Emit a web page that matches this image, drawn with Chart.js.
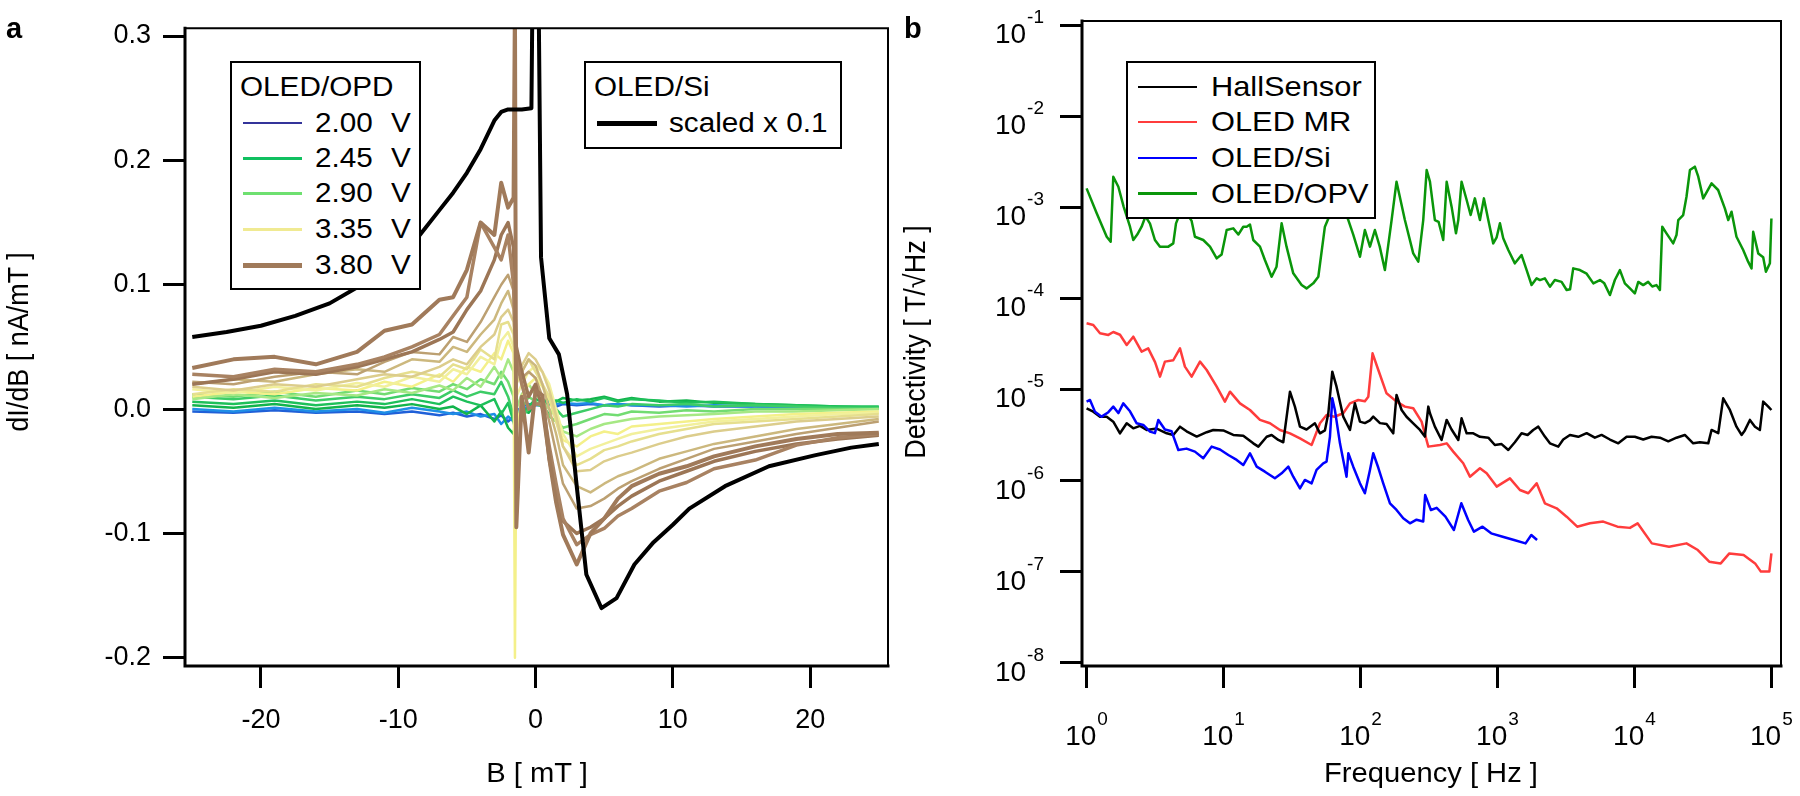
<!DOCTYPE html>
<html>
<head>
<meta charset="utf-8">
<title>OLED magnetometry</title>
<script src="https://cdn.jsdelivr.net/npm/chart.js@4.4.1/dist/chart.umd.min.js"></script>
<style>
  html, body { margin: 0; padding: 0; background: #fff; }
  #wrap { position: relative; width: 1800px; height: 796px; overflow: hidden; font-family: "Liberation Sans", Arial, sans-serif; color: #000; }
  #wrap canvas { position: absolute; top: 0; }
  .t { position: absolute; line-height: 1; white-space: pre; transform-origin: 0 0; transform: scaleX(1.1); }
  .box { position: absolute; background: #fff; border: 2px solid #000; box-sizing: border-box; }
  .swatch { position: absolute; }
  .panel { position: absolute; font-weight: bold; font-size: 29px; line-height: 1; }
  .xtitle { position: absolute; font-size: 27px; line-height: 1; white-space: pre; transform: translateX(-50%) scaleX(1.08); }
  .ytitle { position: absolute; font-size: 27px; line-height: 1; white-space: pre; transform: translate(-50%, -50%) rotate(-90deg) scaleY(1.08); }
</style>
</head>
<body>
<div id="wrap">
  <canvas id="chartA" width="900" height="796" style="left:0"></canvas>
  <canvas id="chartB" width="900" height="796" style="left:900px"></canvas>
  <div class="panel" style="left:6px; top:14px">a</div>
  <div class="panel" style="left:904px; top:14px">b</div>
  <div class="xtitle" style="left:537px; top:760px">B [ mT ]</div>
  <div class="xtitle" style="left:1431px; top:760px">Frequency [ Hz ]</div>
  <div class="ytitle" style="left:19px; top:342px">dI/dB [ nA/mT ]</div>
  <div class="ytitle" style="left:916px; top:342px">Detectivity [ T/√Hz ]</div>
</div>
<script>
// ---------- panel a : dI/dB vs B ----------
const fieldTicks = [-20, -10, 0, 10, 20];
const slopeTicks = [-0.2, -0.1, 0, 0.1, 0.2, 0.3];

// field grid (mT) shared by the OLED/OPD sweeps
const opdField = [-25, -22, -19, -16, -13, -11, -9, -7, -6, -5, -4, -3, -2.5, -2, -1.6, -1.5, -1.4, -1, -0.5, 0,
                  0.5, 1, 1.5, 2, 3, 4, 5, 6, 7, 9, 11, 13, 16, 19, 22, 25];

const opdVoltages = ['2.00', '2.45', '2.90', '3.35', '3.80'];

// OLED/OPD sweeps, nA/mT
const opd200a = [-0.002,-0.003,-0.001,-0.003,-0.002,-0.004, -0.002,-0.005,-0.003,-0.006,-0.004,-0.008,
                 -0.005,-0.010,-0.006,-0.004,-0.002,0.002, 0.004,0.003,0.003,0.004,0.002,0.004,
                 0.003,0.004,0.003,0.004,0.003,0.002, 0.003,0.002,0.002,0.001,0.001,0.001];
const opd200b = [0.000,-0.002,0.001,-0.002,0.000,-0.003, 0.001,-0.002,-0.004,-0.002,-0.006,-0.004,
                 -0.012,-0.006,-0.010,-0.008,-0.004,0.000, 0.002,0.004,0.005,0.006,0.004,0.005,
                 0.004,0.005,0.003,0.004,0.003,0.003, 0.002,0.003,0.002,0.002,0.001,0.001];
const opd245a = [0.003,0.001,0.004,0.000,0.003,0.001, 0.004,0.000,0.002,-0.004,0.003,-0.010,
                 -0.002,-0.015,-0.020,-0.012,-0.008,0.000, -0.003,0.004,0.006,0.008,0.006,0.009,
                 0.007,0.008,0.010,0.007,0.009,0.006, 0.007,0.005,0.004,0.003,0.002,0.001];
const opd245b = [0.006,0.004,0.007,0.003,0.006,0.004, 0.008,0.004,0.010,0.006,0.003,0.008,
                 -0.004,0.005,-0.010,-0.016,-0.010,-0.004, 0.002,0.008,0.006,0.004,0.007,0.005,
                 0.008,0.006,0.009,0.006,0.008,0.007, 0.005,0.006,0.004,0.003,0.002,0.002];
const opd245c = [0.010,0.008,0.011,0.007,0.010,0.008, 0.012,0.009,0.015,0.010,0.014,0.012,
                 0.022,0.010,-0.005,-0.020,-0.012,-0.006, 0.000,0.004,0.002,-0.004,0.000,-0.006,
                 -0.003,0.000,0.003,0.002,0.004,0.003, 0.004,0.002,0.003,0.002,0.001,0.001];
const opd290a = [0.012,0.010,0.014,0.010,0.015,0.012, 0.017,0.014,0.020,0.016,0.024,0.020,
                 0.030,0.022,0.010,-0.015,-0.010,0.000, 0.010,0.006,0.002,-0.006,-0.010,-0.015,
                 -0.012,-0.008,-0.004,-0.005,-0.002,-0.003, -0.001,-0.002,0.000,0.000,0.000,0.000];
const opd290b = [0.008,0.012,0.009,0.013,0.011,0.016, 0.013,0.019,0.015,0.025,0.018,0.034,
                 0.025,0.040,0.030,0.005,0.000,0.012, 0.020,0.012,0.006,0.000,-0.006,-0.018,
                 -0.022,-0.016,-0.012,-0.010,-0.008,-0.006, -0.005,-0.004,-0.002,-0.002,-0.001,0.000];
const opd335a = [0.010,0.014,0.012,0.017,0.015,0.022, 0.018,0.028,0.022,0.034,0.030,0.045,
                 0.040,0.055,0.045,-0.200,-0.020,0.010, 0.020,0.025,0.018,0.008,-0.010,-0.025,
                 -0.030,-0.022,-0.018,-0.020,-0.014,-0.012, -0.010,-0.008,-0.006,-0.004,-0.003,-0.002];
const opd335b = [0.016,0.013,0.018,0.015,0.021,0.018, 0.026,0.022,0.032,0.028,0.042,0.036,
                 0.055,0.062,0.050,0.020,0.010,0.020, 0.030,0.035,0.030,0.020,0.000,-0.020,
                 -0.038,-0.032,-0.028,-0.024,-0.020,-0.016, -0.013,-0.010,-0.008,-0.006,-0.004,-0.003];
const opd335c = [0.012,0.016,0.014,0.020,0.018,0.025, 0.030,0.026,0.036,0.032,0.048,0.040,
                 0.068,0.070,0.060,0.030,0.020,0.030, 0.040,0.030,0.020,0.010,-0.010,-0.030,
                 -0.045,-0.040,-0.033,-0.030,-0.026,-0.020, -0.016,-0.012,-0.010,-0.008,-0.006,-0.004];
const opd350a = [0.018,0.015,0.020,0.018,0.024,0.028, 0.026,0.034,0.040,0.036,0.050,0.060,
                 0.074,0.080,0.070,0.040,0.030,0.035, 0.045,0.040,0.030,0.015,-0.005,-0.030,
                 -0.050,-0.049,-0.042,-0.038,-0.035,-0.028, -0.022,-0.018,-0.014,-0.010,-0.008,-0.006];
const opd360a = [0.020,0.024,0.022,0.028,0.032,0.030, 0.040,0.038,0.050,0.046,0.060,0.072,
                 0.085,0.095,0.080,0.050,0.040,0.030, 0.040,0.035,0.020,0.000,-0.020,-0.045,
                 -0.062,-0.067,-0.060,-0.054,-0.050,-0.040, -0.034,-0.028,-0.022,-0.016,-0.012,-0.008];
const opd370a = [0.022,0.020,0.026,0.030,0.028,0.038, 0.046,0.044,0.058,0.054,0.070,0.090,
                 0.100,0.108,0.095,0.060,0.045,0.025, 0.030,0.025,0.010,-0.010,-0.035,-0.060,
                 -0.080,-0.078,-0.072,-0.064,-0.058,-0.048, -0.040,-0.032,-0.026,-0.020,-0.015,-0.010];
const opd380a = [0.033,0.040,0.042,0.036,0.046,0.063, 0.068,0.088,0.090,0.112,0.150,0.140,
                 0.182,0.162,0.170,0.330,-0.095,0.010, -0.035,0.015,0.011,-0.040,-0.075,-0.101,
                 -0.125,-0.100,-0.088,-0.072,-0.062,-0.052, -0.046,-0.038,-0.030,-0.024,-0.020,-0.019];
const opd380b = [0.028,0.026,0.032,0.030,0.036,0.042, 0.050,0.060,0.075,0.090,0.150,0.130,
                 0.120,0.140,0.100,0.060,0.040,0.020, 0.000,0.004,0.004,-0.030,-0.060,-0.088,
                 -0.109,-0.101,-0.096,-0.086,-0.080,-0.066, -0.059,-0.048,-0.041,-0.029,-0.023,-0.020];
const opd380c = [0.020,0.024,0.030,0.028,0.034,0.040, 0.046,0.056,0.062,0.080,0.095,0.120,
                 0.140,0.150,0.130,0.080,0.050,0.030, 0.010,0.020,0.000,-0.040,-0.070,-0.090,
                 -0.100,-0.095,-0.088,-0.078,-0.070,-0.058, -0.050,-0.042,-0.034,-0.028,-0.024,-0.021];

// OLED/Si reference, already scaled x 0.1
const siField  = [-25, -22.5, -20, -17.5, -15, -12.5, -10, -8.5, -7, -6, -5, -4, -3, -2.5, -2, -1, -0.3, 0, 0.4, 1,
                  1.7, 2.3, 3, 3.7, 4.8, 5.9, 7.2, 8.6, 10, 11.2, 13.8, 17, 20.4, 23, 25];
const siScaled = [0.058, 0.062, 0.067, 0.075, 0.085, 0.101, 0.120, 0.139, 0.160, 0.174, 0.190, 0.209, 0.232, 0.239, 0.241,
                  0.241, 0.242, 0.6, 0.122, 0.057, 0.044, 0.012, -0.062, -0.133, -0.160, -0.152, -0.125, -0.107, -0.093,
                  -0.080, -0.062, -0.046, -0.037, -0.031, -0.028];

// ---------- panel b : detectivity spectra (log10 of Hz and of T/sqrt(Hz)) ----------
const freqTickExp = [0, 1, 2, 3, 4, 5];
const detTickExp = [-8, -7, -6, -5, -4, -3, -2, -1];
const sensorNames = ['HallSensor', 'OLED MR', 'OLED/Si', 'OLED/OPV'];

const hallFreqExp = [0.0,0.049,0.098,0.147,0.195,0.244,0.293,0.341,0.39,0.439,
  0.512,0.585,0.633,0.682,0.73,0.804,0.877,0.925,0.998,1.071,
  1.144,1.217,1.254,1.315,1.351,1.4,1.436,1.485,1.521,1.558,
  1.606,1.667,1.704,1.74,1.765,1.794,1.825,1.874,1.923,1.959,
  1.996,2.032,2.069,2.093,2.142,2.19,2.239,2.263,2.3,2.336,
  2.385,2.434,2.47,2.495,2.507,2.543,2.592,2.629,2.665,2.714,
  2.738,2.775,2.82,2.872,2.933,2.981,3.03,3.079,3.127,3.176,
  3.22,3.261,3.298,3.346,3.383,3.444,3.48,3.529,3.59,3.651,
  3.711,3.76,3.821,3.882,3.943,4.003,4.064,4.125,4.186,4.247,
  4.307,4.368,4.429,4.478,4.539,4.563,4.612,4.648,4.697,4.745,
  4.782,4.806,4.843,4.88,4.916,4.94,4.977,5.0];
const hallDetExp = [-5.207,-5.244,-5.299,-5.30,-5.354,-5.482,-5.372,-5.427,-5.40,-5.445,
  -5.43,-5.482,-5.5,-5.409,-5.46,-5.518,-5.47,-5.445,-5.45,-5.5,
  -5.51,-5.592,-5.628,-5.52,-5.50,-5.555,-5.58,-5.025,-5.189,-5.409,
  -5.44,-5.372,-5.482,-5.45,-5.262,-4.805,-4.97,-5.299,-5.445,-5.153,
  -5.354,-5.37,-5.34,-5.299,-5.37,-5.38,-5.482,-5.061,-5.226,-5.30,
  -5.372,-5.445,-5.518,-5.189,-5.262,-5.409,-5.555,-5.335,-5.44,-5.555,
  -5.317,-5.482,-5.48,-5.52,-5.53,-5.61,-5.60,-5.665,-5.58,-5.482,
  -5.50,-5.445,-5.409,-5.518,-5.592,-5.628,-5.55,-5.5,-5.52,-5.48,
  -5.53,-5.50,-5.55,-5.592,-5.52,-5.52,-5.55,-5.52,-5.53,-5.57,
  -5.53,-5.50,-5.592,-5.58,-5.592,-5.445,-5.48,-5.098,-5.226,-5.409,
  -5.5,-5.45,-5.335,-5.41,-5.445,-5.134,-5.189,-5.226];

const mrFreqExp = [0.0,0.049,0.098,0.159,0.195,0.244,0.293,0.341,0.402,0.45,
  0.5,0.536,0.572,0.633,0.682,0.718,0.767,0.828,0.877,0.95,
  1.01,1.047,1.12,1.193,1.266,1.339,1.412,1.485,1.558,1.643,
  1.704,1.752,1.81,1.874,1.923,1.984,2.032,2.057,2.088,2.13,
  2.19,2.263,2.324,2.385,2.446,2.495,2.58,2.629,2.677,2.75,
  2.799,2.872,2.921,2.994,3.091,3.164,3.225,3.286,3.346,3.432,
  3.505,3.582,3.675,3.772,3.876,3.967,4.023,4.127,4.253,4.38,
  4.463,4.546,4.63,4.693,4.797,4.881,4.923,4.985,5.0];
const mrDetExp = [-4.274,-4.293,-4.384,-4.402,-4.37,-4.40,-4.512,-4.421,-4.585,-4.549,
  -4.70,-4.86,-4.695,-4.68,-4.549,-4.75,-4.86,-4.695,-4.787,-4.97,
  -5.134,-5.025,-5.153,-5.226,-5.335,-5.372,-5.445,-5.482,-5.537,-5.61,
  -5.372,-5.281,-5.30,-5.262,-5.153,-5.116,-5.13,-5.08,-4.604,-4.787,
  -5.043,-5.134,-5.189,-5.207,-5.354,-5.628,-5.61,-5.592,-5.683,-5.811,
  -5.958,-5.866,-5.921,-6.067,-5.976,-6.104,-6.14,-6.031,-6.25,-6.305,
  -6.397,-6.507,-6.47,-6.451,-6.507,-6.52,-6.47,-6.69,-6.727,-6.69,
  -6.763,-6.891,-6.91,-6.80,-6.818,-6.91,-7.0,-7.0,-6.80];

const siFreqExp = [0.0,0.025,0.061,0.11,0.159,0.195,0.232,0.268,0.317,0.366,
  0.414,0.463,0.499,0.524,0.572,0.621,0.67,0.73,0.791,0.852,
  0.913,0.974,1.035,1.096,1.144,1.193,1.242,1.302,1.375,1.424,
  1.473,1.509,1.558,1.594,1.643,1.679,1.728,1.752,1.777,1.794,
  1.813,1.85,1.874,1.898,1.911,1.947,1.996,2.032,2.069,2.093,
  2.13,2.166,2.215,2.263,2.312,2.361,2.409,2.458,2.472,2.514,
  2.556,2.62,2.682,2.736,2.786,2.828,2.891,2.954,3.038,3.121,
  3.205,3.247,3.289];
const siDetExp = [-5.134,-5.116,-5.244,-5.299,-5.25,-5.189,-5.26,-5.153,-5.24,-5.372,
  -5.39,-5.463,-5.48,-5.335,-5.44,-5.46,-5.665,-5.65,-5.683,-5.756,
  -5.628,-5.66,-5.72,-5.774,-5.83,-5.701,-5.848,-5.903,-5.976,-5.921,
  -5.848,-5.958,-6.086,-5.994,-6.031,-5.884,-5.811,-5.793,-5.518,-5.098,
  -5.226,-5.592,-5.775,-5.958,-5.701,-5.848,-6.031,-6.14,-5.884,-5.701,
  -5.86,-6.031,-6.25,-6.323,-6.415,-6.47,-6.43,-6.45,-6.159,-6.324,
  -6.30,-6.397,-6.543,-6.25,-6.433,-6.562,-6.507,-6.58,-6.617,-6.653,
  -6.69,-6.598,-6.653];

const opvFreqExp = [0.0,0.074,0.147,0.176,0.195,0.232,0.27,0.317,0.341,0.37,
  0.402,0.43,0.463,0.499,0.536,0.597,0.633,0.653,0.70,0.767,
  0.791,0.852,0.901,0.95,0.986,1.023,1.071,1.108,1.144,1.169,
  1.193,1.217,1.266,1.302,1.351,1.387,1.424,1.46,1.509,1.57,
  1.606,1.655,1.692,1.74,1.80,1.86,1.911,1.947,1.996,2.032,
  2.069,2.105,2.14,2.178,2.227,2.263,2.324,2.385,2.422,2.458,
  2.483,2.507,2.543,2.57,2.604,2.629,2.665,2.697,2.714,2.738,
  2.775,2.804,2.835,2.872,2.901,2.933,2.969,2.994,3.018,3.042,
  3.079,3.127,3.176,3.213,3.249,3.286,3.31,3.346,3.383,3.419,
  3.468,3.505,3.53,3.553,3.602,3.651,3.70,3.748,3.78,3.821,
  3.857,3.894,3.93,3.967,4.003,4.028,4.064,4.10,4.13,4.161,
  4.186,4.203,4.234,4.283,4.307,4.32,4.356,4.38,4.405,4.441,
  4.466,4.502,4.563,4.611,4.66,4.685,4.709,4.745,4.794,4.83,
  4.855,4.867,4.904,4.94,4.96,4.989,5.0];
const opvDetExp = [-2.793,-3.067,-3.324,-3.379,-2.665,-2.775,-2.99,-3.214,-3.36,-3.30,
  -3.214,-3.10,-3.18,-3.36,-3.433,-3.433,-3.397,-3.177,-3.0,-3.15,
  -3.324,-3.36,-3.433,-3.561,-3.52,-3.25,-3.232,-3.30,-3.214,-3.214,
  -3.19,-3.36,-3.433,-3.58,-3.763,-3.653,-3.177,-3.433,-3.726,-3.854,
  -3.891,-3.836,-3.763,-3.214,-3.0,-2.95,-3.141,-3.30,-3.543,-3.25,
  -3.433,-3.25,-3.43,-3.69,-3.141,-2.72,-3.141,-3.507,-3.598,-3.141,
  -2.592,-2.72,-3.141,-3.16,-3.36,-2.72,-2.994,-3.287,-3.141,-2.72,
  -2.921,-3.086,-2.903,-3.141,-2.903,-3.141,-3.397,-3.33,-3.177,-3.34,
  -3.47,-3.616,-3.525,-3.69,-3.854,-3.781,-3.80,-3.781,-3.872,-3.799,
  -3.82,-3.909,-3.90,-3.671,-3.69,-3.73,-3.836,-3.80,-3.836,-3.964,
  -3.799,-3.69,-3.836,-3.891,-3.946,-3.82,-3.855,-3.82,-3.87,-3.855,
  -3.909,-3.214,-3.287,-3.397,-3.305,-3.141,-3.086,-2.885,-2.592,-2.555,
  -2.665,-2.903,-2.738,-2.811,-3.013,-3.141,-3.05,-3.324,-3.47,-3.598,
  -3.671,-3.269,-3.507,-3.55,-3.708,-3.616,-3.123];

document.addEventListener('DOMContentLoaded', () => {
    const wrap = document.getElementById('wrap');
    const FONT = '"Liberation Sans", Arial, sans-serif';
    Chart.defaults.font.family = FONT;
    Chart.defaults.color = '#000';

    const pairs = (xs, ys, name) => {
        if (xs.length !== ys.length) throw new Error(name + ': ' + xs.length + ' vs ' + ys.length);
        return xs.map((x, i) => ({ x: x, y: ys[i] }));
    };
    const logPairs = (xs, ys, name) => pairs(xs, ys, name).map(p => ({ x: Math.pow(10, p.x), y: Math.pow(10, p.y) }));

    // box frame round the plot area, heavier on left / bottom like the original
    const frame = {
        id: 'frame',
        afterDraw(chart) {
            const { ctx, chartArea: a } = chart;
            ctx.save();
            ctx.strokeStyle = '#000';
            ctx.lineCap = 'square';
            ctx.lineWidth = 2;
            ctx.beginPath();
            ctx.moveTo(a.left, a.top); ctx.lineTo(a.right, a.top); ctx.lineTo(a.right, a.bottom);
            ctx.stroke();
            ctx.lineWidth = 3;
            ctx.beginPath();
            ctx.moveTo(a.left, a.top); ctx.lineTo(a.left, a.bottom); ctx.lineTo(a.right, a.bottom);
            ctx.stroke();
            ctx.restore();
        }
    };

    const tickGrid = { display: true, drawOnChartArea: false, drawTicks: true, tickLength: 22, tickWidth: 3, lineWidth: 3, tickColor: '#000', color: '#000' };

    // ---- panel a ----
    const opdSeries = [
        { v: '3.80', y: opd380a, c: '#a07a5a', w: 4 },
        { v: '3.80', y: opd380b, c: '#a88262', w: 3.5 },
        { v: '3.80', y: opd380c, c: '#9c7656', w: 3.5 },
        { v: '3.70', y: opd370a, c: '#bca072', w: 2.5 },
        { v: '3.60', y: opd360a, c: '#ccb87e', w: 2.5 },
        { v: '3.50', y: opd350a, c: '#dccd8c', w: 2.5 },
        { v: '3.35', y: opd335c, c: '#e6df8e', w: 2.5 },
        { v: '3.35', y: opd335b, c: '#f2f09c', w: 2.5 },
        { v: '3.35', y: opd335a, c: '#f4f08a', w: 2.5 },
        { v: '2.90', y: opd290b, c: '#a6e884', w: 2.5 },
        { v: '2.90', y: opd290a, c: '#72dc72', w: 2.5 },
        { v: '2.45', y: opd245c, c: '#3ccc66', w: 2.5 },
        { v: '2.45', y: opd245b, c: '#1ec05a', w: 2.5 },
        { v: '2.45', y: opd245a, c: '#12b44c', w: 2.5 },
        { v: '2.00', y: opd200b, c: '#1f8ee6', w: 2.5 },
        { v: '2.00', y: opd200a, c: '#2060d8', w: 2.5 }
    ];
    const setsA = [{
        label: 'OLED/Si scaled x 0.1', data: pairs(siField, siScaled, 'si'),
        borderColor: '#000', borderWidth: 4, pointRadius: 0, tension: 0, borderJoinStyle: 'round'
    }].concat(opdSeries.map((s, i) => ({
        label: s.v + ' V', data: pairs(opdField, s.y, 'opd' + i),
        borderColor: s.c, borderWidth: s.w, pointRadius: 0, tension: 0, borderJoinStyle: 'round'
    })));

    new Chart(document.getElementById('chartA'), {
        type: 'line',
        data: { datasets: setsA },
        options: {
            responsive: false,
            animation: false,
            devicePixelRatio: 1,
            layout: { padding: { top: 17, right: 12, left: 0, bottom: 0 } },
            plugins: { legend: { display: false }, tooltip: { enabled: false } },
            scales: {
                x: {
                    type: 'linear', min: -25.53, max: 25.67, bounds: 'data',
                    afterBuildTicks: s => { s.ticks = fieldTicks.map(v => ({ value: v })); },
                    afterFit: s => { s.height = 130; },
                    grid: tickGrid,
                    border: { display: false },
                    ticks: { font: { size: 27 }, color: '#000', padding: 16, maxRotation: 0, autoSkip: false,
                             callback: v => String(v) }
                },
                y: {
                    type: 'linear', min: -0.2066, max: 0.3063, bounds: 'data',
                    afterBuildTicks: s => { s.ticks = slopeTicks.map(v => ({ value: v })); },
                    afterFit: s => { s.width = 185; },
                    grid: tickGrid,
                    border: { display: false },
                    ticks: { font: { size: 27 }, color: '#000', padding: 12, autoSkip: false,
                             callback: v => v.toFixed(1) }
                }
            }
        },
        plugins: [frame]
    });

    // ---- panel b ----
    const specSets = [
        { name: sensorNames[2], d: logPairs(siFreqExp, siDetExp, 'si'), c: '#0000ff' },
        { name: sensorNames[0], d: logPairs(hallFreqExp, hallDetExp, 'hall'), c: '#000000' },
        { name: sensorNames[1], d: logPairs(mrFreqExp, mrDetExp, 'mr'), c: '#ff3c3c' },
        { name: sensorNames[3], d: logPairs(opvFreqExp, opvDetExp, 'opv'), c: '#0a960a' }
    ];

    // "10^n" tick labels with raised exponent
    const powerLabels = {
        id: 'powerLabels',
        afterDraw(chart) {
            const { ctx, chartArea: a, scales } = chart;
            const big = '28px ' + FONT, small = '19px ' + FONT;
            ctx.save();
            ctx.fillStyle = '#000';
            ctx.textAlign = 'left';
            ctx.textBaseline = 'alphabetic';
            const measure = (t, f) => { ctx.font = f; return ctx.measureText(t).width; };
            detTickExp.forEach(e => {
                const y = scales.y.getPixelForValue(Math.pow(10, e));
                const ex = String(e);
                const w1 = measure('10', big), w2 = measure(ex, small);
                const x0 = a.left - 22 - 16 - w1 - w2 - 1;
                ctx.font = big; ctx.fillText('10', x0, y + 18);
                ctx.font = small; ctx.fillText(ex, x0 + w1 + 1, y - 2);
            });
            freqTickExp.forEach(e => {
                const x = scales.x.getPixelForValue(Math.pow(10, e));
                const ex = String(e);
                const w1 = measure('10', big), w2 = measure(ex, small);
                const x0 = x - (w1 + w2 + 1) / 2;
                ctx.font = big; ctx.fillText('10', x0, 745);
                ctx.font = small; ctx.fillText(ex, x0 + w1 + 1, 725);
            });
            ctx.restore();
        }
    };

    new Chart(document.getElementById('chartB'), {
        type: 'line',
        data: {
            datasets: specSets.map(s => ({
                label: s.name, data: s.d, borderColor: s.c, borderWidth: 2.5,
                pointRadius: 0, tension: 0, borderJoinStyle: 'round'
            }))
        },
        options: {
            responsive: false,
            animation: false,
            devicePixelRatio: 1,
            layout: { padding: { top: 21, right: 19, left: 0, bottom: 0 } },
            plugins: { legend: { display: false }, tooltip: { enabled: false } },
            scales: {
                x: {
                    type: 'logarithmic', min: 0.926, max: 117500, bounds: 'data',
                    afterBuildTicks: s => { s.ticks = freqTickExp.map(e => ({ value: Math.pow(10, e) })); },
                    afterFit: s => { s.height = 130; },
                    grid: tickGrid,
                    border: { display: false },
                    ticks: { autoSkip: false, maxRotation: 0, callback: () => '' }
                },
                y: {
                    type: 'logarithmic', min: 9.2e-9, max: 0.1107, bounds: 'data',
                    afterBuildTicks: s => { s.ticks = detTickExp.map(e => ({ value: Math.pow(10, e) })); },
                    afterFit: s => { s.width = 182; },
                    grid: tickGrid,
                    border: { display: false },
                    ticks: { autoSkip: false, callback: () => '' }
                }
            }
        },
        plugins: [frame, powerLabels]
    });

    // ---- legends (white boxes over the plots) ----
    const addBox = (l, t, w, h) => {
        const d = document.createElement('div');
        d.className = 'box';
        Object.assign(d.style, { left: l + 'px', top: t + 'px', width: w + 'px', height: h + 'px' });
        wrap.appendChild(d);
    };
    const addText = (txt, x, yc, size) => {
        const d = document.createElement('div');
        d.className = 't';
        d.textContent = txt;
        Object.assign(d.style, { left: x + 'px', top: (yc - 0.49 * size) + 'px', fontSize: size + 'px' });
        wrap.appendChild(d);
    };
    const addLine = (x1, x2, yc, w, color) => {
        const d = document.createElement('div');
        d.className = 'swatch';
        Object.assign(d.style, { left: x1 + 'px', top: (yc - w / 2) + 'px', width: (x2 - x1) + 'px', height: w + 'px', background: color });
        wrap.appendChild(d);
    };

    // OLED/OPD
    const opdKeyColors = ['#34349a', '#10c060', '#6ee070', '#f0ea92', '#a07a5a'];
    const opdKeyWidths = [2, 3, 3, 3, 5];
    const opdRows = [123, 158, 193.5, 229.5, 265];
    addBox(230, 61, 191, 229);
    addText('OLED/OPD', 240, 87.5, 27);
    opdVoltages.forEach((v, i) => {
        addLine(243, 302, opdRows[i], opdKeyWidths[i], opdKeyColors[i]);
        addText(v, 315, opdRows[i], 27);
        addText('V', 391, opdRows[i], 27);
    });

    // OLED/Si
    addBox(584, 61, 258, 88);
    addText('OLED/Si', 594, 87, 27);
    addLine(597, 657, 123.5, 5, '#000');
    addText('scaled x 0.1', 669, 123.5, 27);

    // spectra
    const specKeyColors = ['#000000', '#ff3c3c', '#0000ff', '#0a960a'];
    const specRows = [87, 122, 158, 193.5];
    addBox(1126, 61, 250, 158);
    sensorNames.forEach((n, i) => {
        addLine(1138, 1197, specRows[i], 2.5, specKeyColors[i]);
        addText(n, 1211, specRows[i], 28);
    });
});
</script>
</body>
</html>
